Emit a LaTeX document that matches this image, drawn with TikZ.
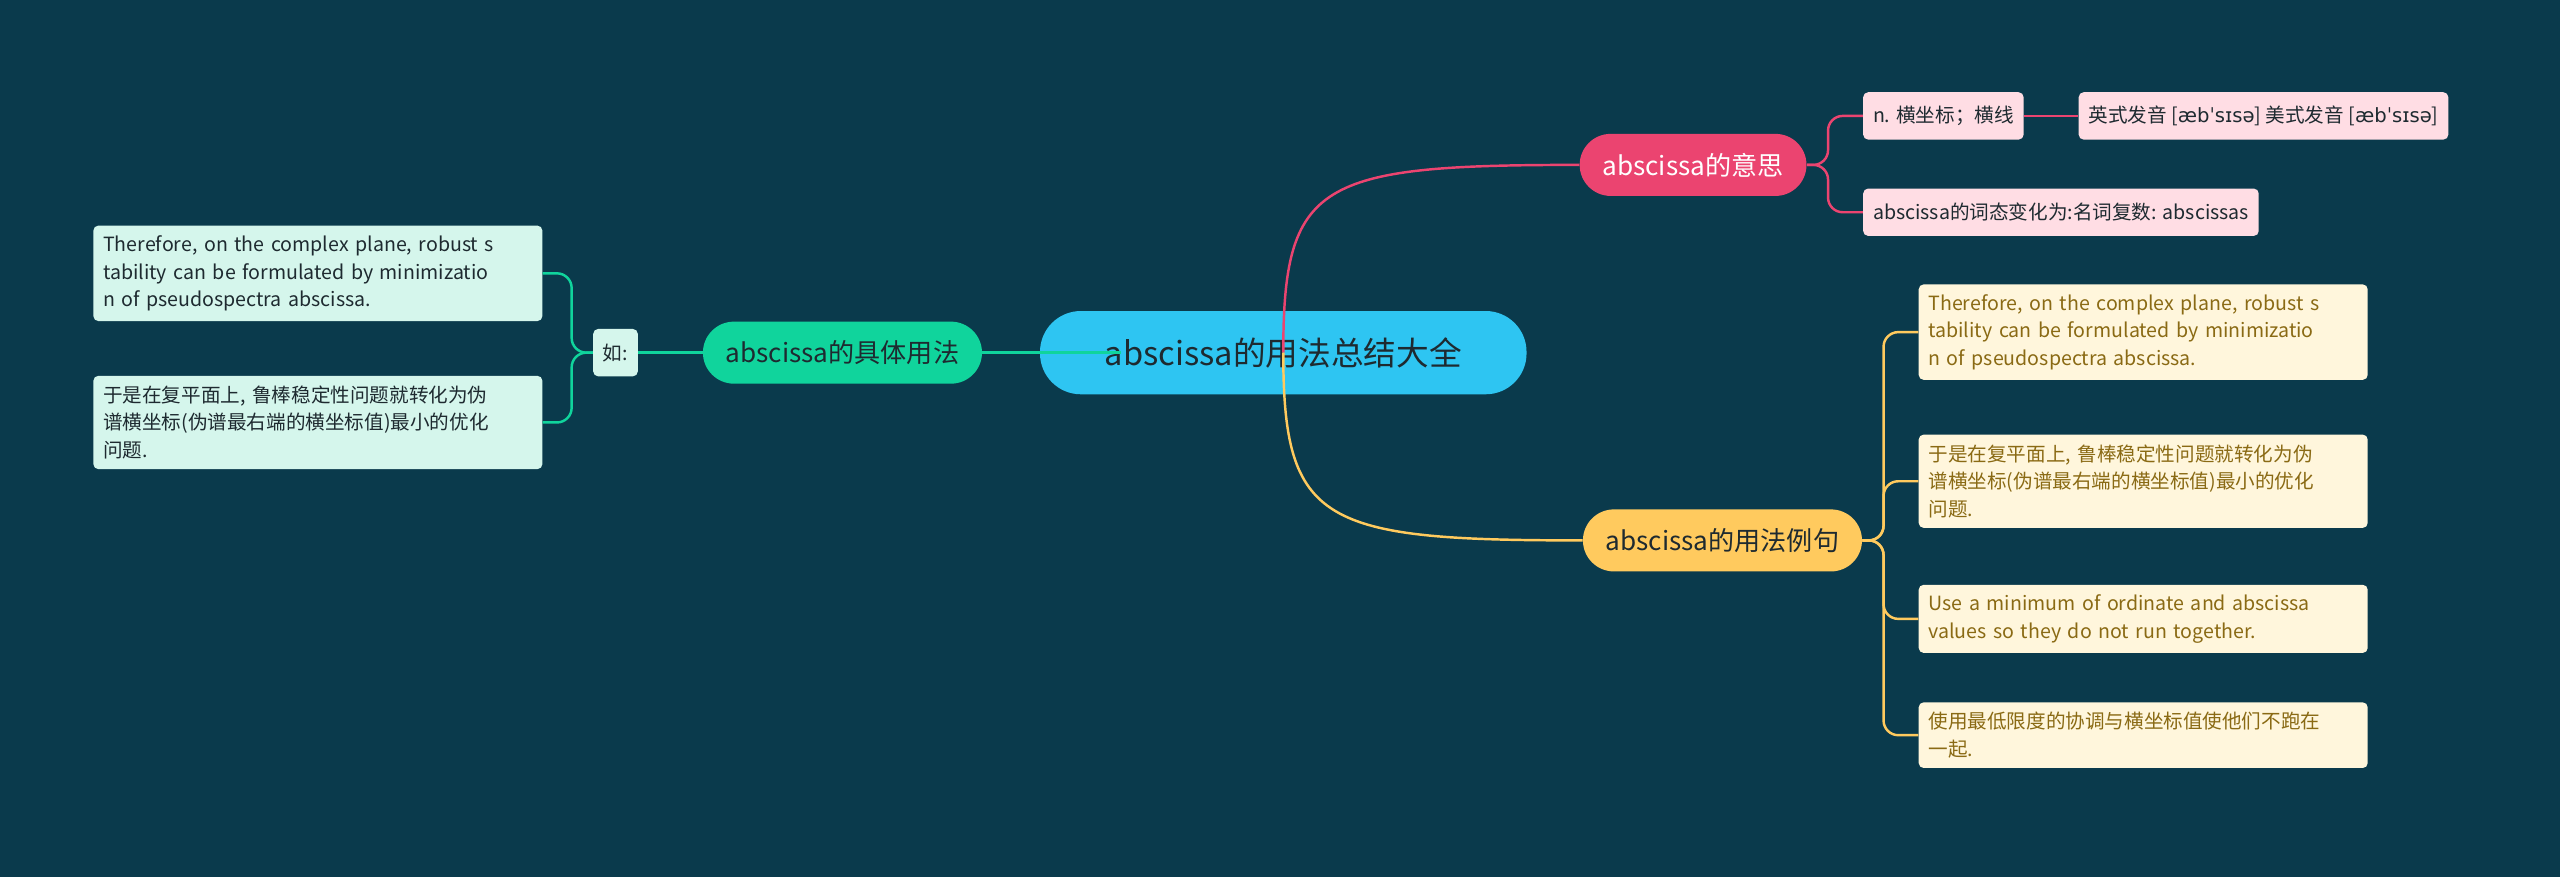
\documentclass[tikz,border=0pt]{standalone}
\usepackage{fontspec}
\setmainfont{Noto Sans CJK SC}
\newfontfamily\ipa{DejaVu Sans}
\usetikzlibrary{calc}
\definecolor{bg}{HTML}{0A3A4C}
\definecolor{cyanc}{HTML}{2EC5F2}
\definecolor{pinkc}{HTML}{EB4470}
\definecolor{yellc}{HTML}{FFCA5E}
\definecolor{greenc}{HTML}{10D49C}
\definecolor{mint}{HTML}{D5F6EC}
\definecolor{lpink}{HTML}{FFDDE4}
\definecolor{cream}{HTML}{FFF6DC}
\definecolor{olive}{HTML}{8A6A14}
\definecolor{darktx}{HTML}{1E2A30}
\begin{document}
\begin{tikzpicture}[x=1pt,y=-1pt,
  branch/.style={rounded corners=19pt,minimum height=38pt,inner xsep=14pt,font=\fontsize{16}{18}\selectfont},
  leaf/.style={anchor=north west,rounded corners=3pt,inner xsep=6pt,inner ysep=6pt,align=left,text width=263pt,font=\fontsize{12}{17}\selectfont},
  tag/.style={rounded corners=3pt,minimum height=29pt,inner xsep=6pt,font=\fontsize{12}{14}\selectfont},
  link/.style={line width=1.5pt,rounded corners=9pt}]
\fill[bg] (0,0) rectangle (1568,537);
\useasboundingbox (0,0) rectangle (1568,537);

\node[fill=cyanc,rounded corners=25pt,minimum width=298pt,minimum height=51pt,text=darktx,font=\fontsize{20}{22}\selectfont] (root) at (786,216) {abscissa的用法总结大全};

% meaning
\node[branch,fill=pinkc,text=white] (mean) at (1037,101) {abscissa的意思};
\node[tag,fill=lpink,text=darktx,anchor=west] (noun) at (1141,71) {n. 横坐标；横线};
\node[tag,fill=lpink,text=darktx,anchor=west] (pron) at (1273,71) {英式发音 [{\ipa æbˈsɪsə}] 美式发音 [{\ipa æbˈsɪsə}]};
\node[tag,fill=lpink,text=darktx,anchor=west] (plur) at (1141,130) {abscissa的词态变化为:名词复数: abscissas};

% examples
\node[branch,fill=yellc,text=darktx] (ex) at (1055,331) {abscissa的用法例句};
\node[leaf,fill=cream,text=olive] (ex1) at (1175,174) {Therefore, on the complex plane, robust s\\tability can be formulated by minimizatio\\n of pseudospectra abscissa.};
\node[leaf,fill=cream,text=olive] (ex2) at (1175,266) {于是在复平面上, 鲁棒稳定性问题就转化为伪\\谱横坐标(伪谱最右端的横坐标值)最小的优化\\问题.};
\node[leaf,fill=cream,text=olive] (ex3) at (1175,358) {Use a minimum of ordinate and abscissa\\values so they do not run together.};
\node[leaf,fill=cream,text=olive] (ex4) at (1175,430) {使用最低限度的协调与横坐标值使他们不跑在\\一起.};

% usage
\node[branch,fill=greenc,text=darktx] (use) at (516,216) {abscissa的具体用法};
\node[tag,fill=mint,text=darktx] (ru) at (377,216) {如:};
\node[leaf,fill=mint,text=darktx] (use1) at (57,138) {Therefore, on the complex plane, robust s\\tability can be formulated by minimizatio\\n of pseudospectra abscissa.};
\node[leaf,fill=mint,text=darktx] (use2) at (57,230) {于是在复平面上, 鲁棒稳定性问题就转化为伪\\谱横坐标(伪谱最右端的横坐标值)最小的优化\\问题.};

\draw[link,pinkc] (root.center) .. controls +(0,-105) and +(-160,0) .. (mean.west);
\draw[link,yellc] (root.center) .. controls +(0,105) and +(-160,0) .. (ex.west);
\draw[link,greenc] (use.east) -- ($(root.west)+(50,0)$);
\draw[link,greenc] (ru.east) -- (use.west);

\foreach \n in {use1,use2}
  \draw[link,greenc] (ru.west) -- ($(ru.west)+(-13,0)$) |- (\n.east);
\foreach \n in {noun,plur}
  \draw[link,pinkc] (mean.east) -- ($(mean.east)+(13,0)$) |- (\n.west);
\draw[link,pinkc] (noun.east) -- (pron.west);
\foreach \n in {ex1,ex2,ex3,ex4}
  \draw[link,yellc] (ex.east) -- ($(ex.east)+(13,0)$) |- (\n.west);
\end{tikzpicture}
\end{document}
